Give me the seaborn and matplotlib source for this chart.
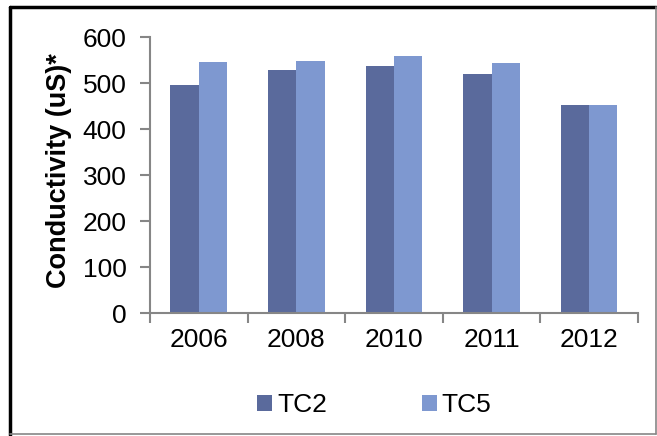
import matplotlib.pyplot as plt
import pandas as pd
import seaborn as sns
from matplotlib.lines import Line2D
from matplotlib.patches import Patch

sns.set_theme(style="white")
plt.rcParams["font.family"] = ["Liberation Sans", "DejaVu Sans"]
plt.rcParams["text.color"] = "black"
plt.rcParams["xtick.color"] = "black"
plt.rcParams["ytick.color"] = "black"
plt.rcParams["axes.labelcolor"] = "black"

years = ["2006", "2008", "2010", "2011", "2012"]
tc2 = [495, 528, 537, 520, 452]
tc5 = [545, 549, 559, 543, 452]
series = ["TC2", "TC5"]
colors = ["#5a6a9c", "#7e98d0"]

df = pd.DataFrame({
    "year": years * 2,
    "value": tc2 + tc5,
    "series": ["TC2"] * len(years) + ["TC5"] * len(years),
})

fig = plt.figure(figsize=(6.57, 4.36), dpi=100)
ax = fig.add_axes([0.2283, 0.282, 0.7427, 0.633])

sns.barplot(data=df, x="year", y="value", hue="series", hue_order=series,
            palette=colors, width=0.58, saturation=1, legend=False, ax=ax)
for p in ax.patches:
    p.set_edgecolor("none")

ax.set_ylim(0, 600)
ax.set_xlim(-0.5, len(years) - 0.5)
ax.set_yticks(range(0, 601, 100))
ax.set_xticks([i - 0.5 for i in range(len(years) + 1)])
ax.set_xticklabels([])
ax.set_xticks(range(len(years)), minor=True)
ax.set_xticklabels(years, minor=True)
ax.tick_params(axis="x", which="major", direction="out", length=7, width=1.5,
               color="#868686", bottom=True)
ax.tick_params(axis="x", which="minor", length=0, pad=11, labelsize=19,
               labelcolor="black")
ax.tick_params(axis="y", direction="out", length=7, width=1.5, color="#868686",
               left=True, labelsize=19, pad=10, labelcolor="black")

sns.despine(ax=ax)
for s in ["left", "bottom"]:
    ax.spines[s].set_color("#868686")
    ax.spines[s].set_linewidth(1.5)

ax.set_xlabel("")
ax.set_ylabel("Conductivity (uS)*", fontsize=19.5, fontweight="bold",
              color="black")
ax.yaxis.set_label_coords(-0.16, 0.515)

handles = [Patch(facecolor=c, edgecolor="none") for c in colors]
fig.legend(handles, series, loc="center", bbox_to_anchor=(0.57, 0.07), ncol=2,
           frameon=False, fontsize=19, handlelength=0.55, handleheight=0.55,
           handletextpad=0.2, columnspacing=3.6)

# chart frame
fig.add_artist(Line2D([0.015, 0.015], [0.002, 0.983], color="black", lw=2.5,
                      transform=fig.transFigure))
fig.add_artist(Line2D([0.015, 0.998], [0.983, 0.983], color="black", lw=2.5,
                      transform=fig.transFigure))
fig.add_artist(Line2D([0.015, 0.998], [0.004, 0.004], color="#868686", lw=1.2,
                      transform=fig.transFigure))
fig.add_artist(Line2D([0.998, 0.998], [0.004, 0.983], color="#868686", lw=1.2,
                      transform=fig.transFigure))

fig.savefig("out.png", dpi=100)
